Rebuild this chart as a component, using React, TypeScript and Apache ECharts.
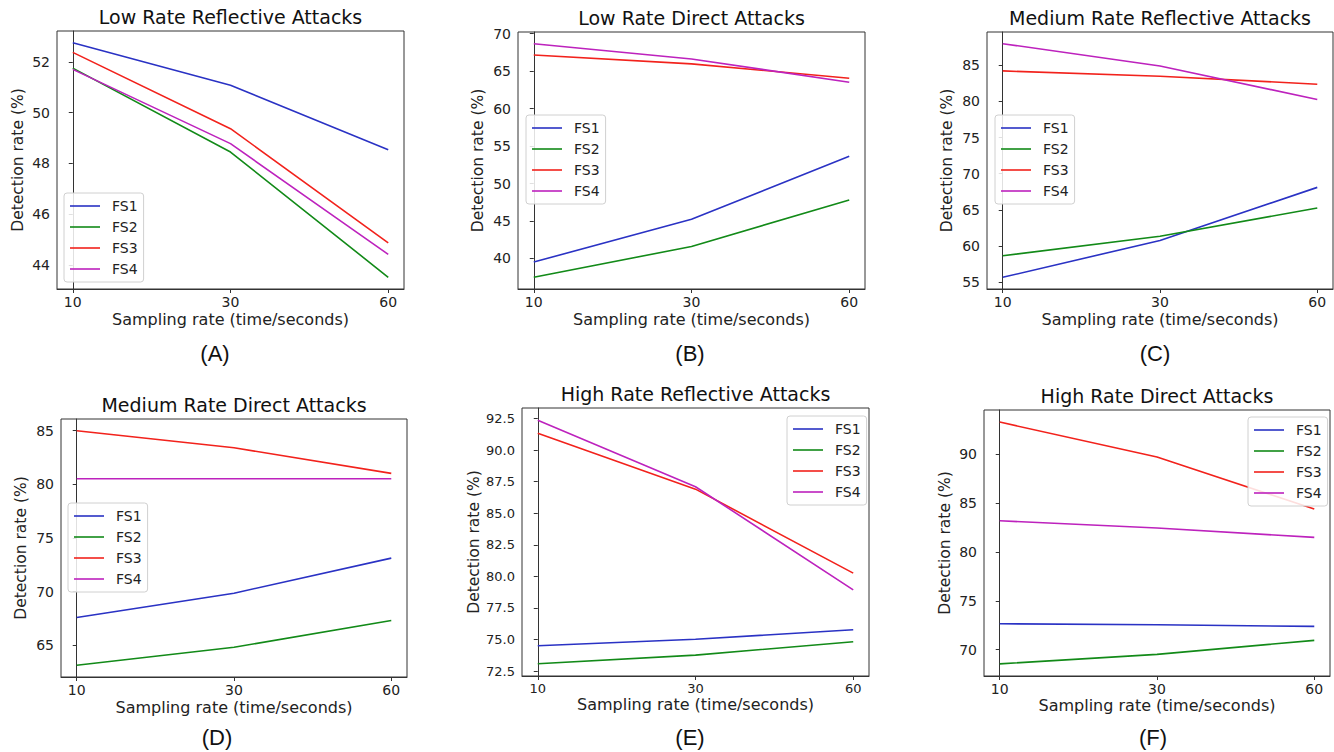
import React, { useEffect, useRef } from 'react';
import * as echarts from 'echarts';

const xLabels = ['10', '30', '60'];
const seriesNames = ['FS1', 'FS2', 'FS3', 'FS4'];
const seriesColors = ['#2a32c4', '#128a18', '#f2221c', '#bd22bd'];

// values per panel: rows = FS1..FS4, columns = sampling rate 10, 30, 60
const lowReflective = [[52.76, 51.08, 48.54], [51.76, 48.45, 43.51], [52.38, 49.37, 44.87], [51.71, 48.78, 44.41]];
const lowDirect = [[39.52, 45.23, 53.65], [37.48, 41.6, 47.8], [67.16, 65.97, 64.06], [68.67, 66.63, 63.53]];
const mediumReflective = [[55.65, 60.75, 68.1], [58.63, 61.34, 65.25], [84.22, 83.48, 82.38], [87.99, 84.9, 80.27]];
const mediumDirect = [[67.58, 69.85, 73.12], [63.13, 64.81, 67.3], [85.0, 83.41, 81.02], [80.52, 80.52, 80.52]];
const highReflective = [[74.51, 75.02, 75.78], [73.08, 73.77, 74.83], [91.33, 86.91, 80.26], [92.37, 87.1, 78.94]];
const highDirect = [[72.65, 72.55, 72.38], [68.54, 69.52, 70.95], [93.3, 89.73, 84.39], [83.2, 82.45, 81.5]];

const ticksLowReflective = [44, 46, 48, 50, 52];
const ticksLowDirect = [40, 45, 50, 55, 60, 65, 70];
const ticksMediumReflective = [55, 60, 65, 70, 75, 80, 85];
const ticksMediumDirect = [65, 70, 75, 80, 85];
const ticksHighReflective = [72.5, 75, 77.5, 80, 82.5, 85, 87.5, 90, 92.5];
const ticksHighDirect = [70, 75, 80, 85, 90];

const panelTitles = [
  'Low Rate Reflective Attacks',
  'Low Rate Direct Attacks',
  'Medium Rate Reflective Attacks',
  'Medium Rate Direct Attacks',
  'High Rate Reflective Attacks',
  'High Rate Direct Attacks',
];
const panelLetters = ['(A)', '(B)', '(C)', '(D)', '(E)', '(F)'];
const yAxisTitle = 'Detection rate (%)';
const xAxisTitle = 'Sampling rate (time/seconds)';

const panelData = [lowReflective, lowDirect, mediumReflective, mediumDirect, highReflective, highDirect];
const panelTicks = [ticksLowReflective, ticksLowDirect, ticksMediumReflective, ticksMediumDirect, ticksHighReflective, ticksHighDirect];
const panelDecimals = [0, 0, 0, 0, 1, 0];

// layout (pixels)
const layout = [
  { left: 57, top: 31, width: 347, height: 258, yGap: 31, xGap: 22, tickFont: 14, legend: [64, 193], letter: [215, 353] },
  { left: 518, top: 32, width: 347, height: 257, yGap: 32, xGap: 22, tickFont: 14, legend: [526, 115], letter: [690, 353] },
  { left: 987, top: 32, width: 346, height: 257, yGap: 32, xGap: 22, tickFont: 14, legend: [995, 115], letter: [1155, 353] },
  { left: 61, top: 419, width: 346, height: 258, yGap: 32, xGap: 22, tickFont: 14, legend: [68, 503], letter: [217, 737] },
  { left: 522, top: 408, width: 347, height: 268, yGap: 38, xGap: 20, tickFont: 13, legend: [787, 416], letter: [690, 737] },
  { left: 984, top: 410, width: 346, height: 266, yGap: 31, xGap: 21, tickFont: 14, legend: [1248, 417], letter: [1153, 737] },
];

const FONT = 'DejaVu Sans';
const LEGEND_ICON = 'path://M0,0 H30 V1.6 H0 Z';

function buildOption() {
  const grid: any[] = [];
  const xAxis: any[] = [];
  const yAxis: any[] = [];
  const series: any[] = [];
  const legend: any[] = [];
  const graphic: any[] = [];

  panelData.forEach((rows, p) => {
    const L = layout[p];
    grid.push({
      left: L.left, top: L.top, width: L.width, height: L.height,
      show: true, borderColor: '#333', borderWidth: 1, backgroundColor: '#fff',
    });
    const all = rows.flat();
    const dMin = Math.min(...all);
    const dMax = Math.max(...all);
    const pad = (dMax - dMin) * 0.05;
    const idx = xLabels.map((_, i) => i);
    xAxis.push({
      gridIndex: p, type: 'value', min: -0.1, max: xLabels.length - 1 + 0.1,
      axisLine: { show: true, lineStyle: { color: '#333', width: 1 } },
      axisTick: { show: true, length: 4, customValues: idx, lineStyle: { color: '#333' } },
      axisLabel: {
        customValues: idx, margin: 6, fontSize: L.tickFont, color: '#222', fontFamily: FONT,
        formatter: (v: number) => xLabels[Math.round(v)] ?? '',
      },
      splitLine: { show: false },
      name: xAxisTitle, nameLocation: 'middle', nameGap: L.xGap,
      nameTextStyle: { fontSize: 16, color: '#222', fontFamily: FONT },
    });
    const ticks = panelTicks[p];
    yAxis.push({
      gridIndex: p, type: 'value', min: dMin - pad, max: dMax + pad,
      axisLine: { show: true, lineStyle: { color: '#333', width: 1 } },
      axisTick: { show: true, length: 4, customValues: ticks, lineStyle: { color: '#333' } },
      axisLabel: {
        customValues: ticks, margin: 7, fontSize: L.tickFont, color: '#222', fontFamily: FONT,
        formatter: (v: number) => v.toFixed(panelDecimals[p]),
      },
      splitLine: { show: false },
      name: yAxisTitle, nameLocation: 'middle', nameGap: L.yGap,
      nameTextStyle: { fontSize: 15.5, color: '#222', fontFamily: FONT },
    });
    rows.forEach((vals, s) => {
      series.push({
        type: 'line', name: seriesNames[s], xAxisIndex: p, yAxisIndex: p,
        data: vals.map((v, i) => [i, v]),
        symbol: 'none', showSymbol: false,
        lineStyle: { color: seriesColors[s], width: 1.6 },
        itemStyle: { color: seriesColors[s] },
        color: seriesColors[s],
      });
    });
    legend.push({
      orient: 'vertical', left: L.legend[0], top: L.legend[1],
      data: seriesNames.map((n) => ({ name: n, icon: LEGEND_ICON })),
      itemWidth: 30, itemHeight: 14, itemGap: 7,
      padding: [6, 6, 6, 6], borderColor: '#d0d0d0', borderWidth: 1, borderRadius: 3,
      backgroundColor: 'rgba(255,255,255,0.85)',
      textStyle: { fontSize: 14, color: '#222', fontFamily: FONT, padding: [0, 0, 0, 7] },
      selectedMode: false,
    });
    graphic.push({
      type: 'text', x: L.left + L.width / 2, y: L.top - 14,
      style: { text: panelTitles[p], fontSize: 19, fill: '#111', fontFamily: FONT, align: 'center', verticalAlign: 'middle' },
    });
    graphic.push({
      type: 'text', x: L.letter[0], y: L.letter[1],
      style: { text: panelLetters[p], fontSize: 22, fill: '#111', fontFamily: 'Liberation Sans', align: 'center', verticalAlign: 'middle' },
    });
  });

  return {
    animation: false,
    backgroundColor: '#fff',
    grid, xAxis, yAxis, series, legend, graphic,
  };
}

export default function App() {
  const ref = useRef<HTMLDivElement>(null);
  useEffect(() => {
    if (!ref.current) return;
    const chart = echarts.init(ref.current, undefined, { renderer: 'svg' });
    chart.setOption(buildOption() as any);
    return () => chart.dispose();
  }, []);
  return (
    <div
      ref={ref}
      style={{ position: 'fixed', left: 0, top: 0, width: 1334, height: 752, background: '#fff' }}
    />
  );
}
